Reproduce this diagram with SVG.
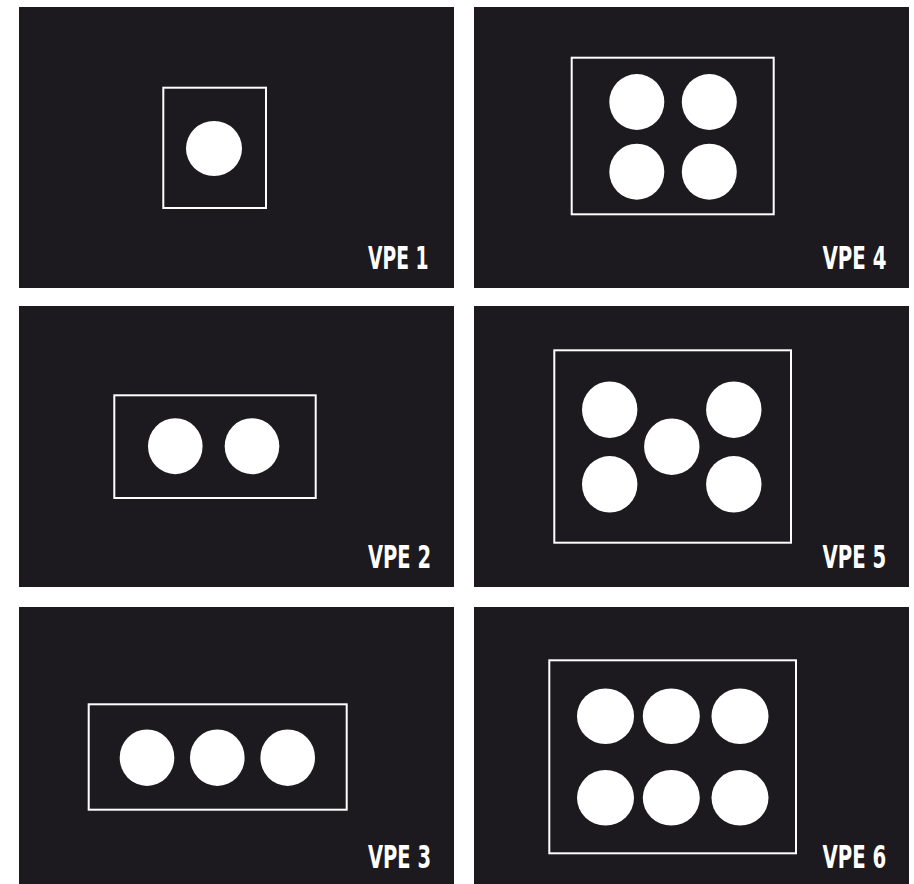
<svg xmlns="http://www.w3.org/2000/svg" width="914" height="884" viewBox="0 0 914 884">
<style>
.panel{fill:#1c1a1e}
.frame{fill:none;stroke:#ffffff;stroke-width:2}
.dot{fill:#ffffff}
.lbl{fill:#ffffff;font-family:"DejaVu Sans Condensed","DejaVu Sans","Liberation Sans",sans-serif;font-weight:bold;font-size:31.5px}
</style>
<rect width="914" height="884" fill="#ffffff"/>
<g id="vpe1">
<rect class="panel" x="19" y="7" width="435" height="281"/>
<rect class="frame" x="163.3" y="87.7" width="102.7" height="120.3"/>
<ellipse class="dot" cx="214" cy="148.5" rx="28" ry="27.5"/>
<text class="lbl" x="368" y="269" textLength="60.5" lengthAdjust="spacingAndGlyphs">VPE 1</text>
</g>
<g id="vpe4">
<rect class="panel" x="474" y="7" width="435" height="281"/>
<rect class="frame" x="571.7" y="57.7" width="202" height="156.6"/>
<ellipse class="dot" cx="636.8" cy="102" rx="27.5" ry="28"/>
<ellipse class="dot" cx="709.3" cy="102" rx="27.5" ry="28"/>
<ellipse class="dot" cx="636.8" cy="171.7" rx="27.5" ry="28"/>
<ellipse class="dot" cx="709.3" cy="171.7" rx="27.5" ry="28"/>
<text class="lbl" x="822.5" y="269" textLength="64" lengthAdjust="spacingAndGlyphs">VPE 4</text>
</g>
<g id="vpe2">
<rect class="panel" x="19" y="306" width="435" height="281"/>
<rect class="frame" x="114.3" y="395.3" width="201.4" height="102.7"/>
<ellipse class="dot" cx="175.3" cy="446.2" rx="27.3" ry="28"/>
<ellipse class="dot" cx="252" cy="446.2" rx="27.3" ry="28"/>
<text class="lbl" x="368" y="567.5" textLength="63" lengthAdjust="spacingAndGlyphs">VPE 2</text>
</g>
<g id="vpe5">
<rect class="panel" x="474" y="306" width="435" height="281"/>
<rect class="frame" x="554.3" y="350.3" width="236.7" height="192.4"/>
<ellipse class="dot" cx="609.7" cy="409.7" rx="27.7" ry="28.3"/>
<ellipse class="dot" cx="733.8" cy="409.7" rx="27.7" ry="28.3"/>
<ellipse class="dot" cx="671.8" cy="446.7" rx="27.7" ry="28.3"/>
<ellipse class="dot" cx="609.7" cy="484.3" rx="27.7" ry="28.3"/>
<ellipse class="dot" cx="733.8" cy="484.3" rx="27.7" ry="28.3"/>
<text class="lbl" x="822.5" y="567.5" textLength="63.7" lengthAdjust="spacingAndGlyphs">VPE 5</text>
</g>
<g id="vpe3">
<rect class="panel" x="19" y="607" width="435" height="281"/>
<rect class="frame" x="88.7" y="704.3" width="258" height="105.4"/>
<ellipse class="dot" cx="147" cy="757.7" rx="27.3" ry="28.3"/>
<ellipse class="dot" cx="217.3" cy="757.7" rx="27.3" ry="28.3"/>
<ellipse class="dot" cx="287.7" cy="757.7" rx="27.3" ry="28.3"/>
<text class="lbl" x="368" y="868" textLength="63" lengthAdjust="spacingAndGlyphs">VPE 3</text>
</g>
<g id="vpe6">
<rect class="panel" x="474" y="607" width="435" height="281"/>
<rect class="frame" x="549.3" y="660.3" width="246.7" height="193"/>
<ellipse class="dot" cx="605.5" cy="716.2" rx="28.5" ry="27.8"/>
<ellipse class="dot" cx="671.3" cy="716.2" rx="28.5" ry="27.8"/>
<ellipse class="dot" cx="740" cy="716.2" rx="28.5" ry="27.8"/>
<ellipse class="dot" cx="605.5" cy="797.8" rx="28.5" ry="27.8"/>
<ellipse class="dot" cx="671.3" cy="797.8" rx="28.5" ry="27.8"/>
<ellipse class="dot" cx="740" cy="797.8" rx="28.5" ry="27.8"/>
<text class="lbl" x="822.5" y="868" textLength="63.7" lengthAdjust="spacingAndGlyphs">VPE 6</text>
</g>
<g id="connectors"/>
</svg>
